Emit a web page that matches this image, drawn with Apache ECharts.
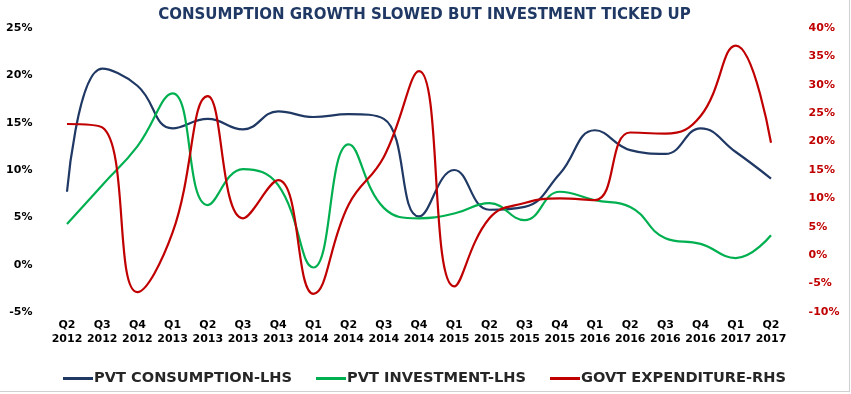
<!DOCTYPE html>
<html>
<head>
<meta charset="utf-8">
<script src="https://cdn.jsdelivr.net/npm/echarts@6/dist/echarts.min.js"></script>
<style>
html,body{margin:0;padding:0;background:#fff;}
#chart{width:850px;height:392px;box-sizing:border-box;border-right:1px solid #d0d0d0;border-bottom:1px solid #d0d0d0;}
</style>
</head>
<body>
<div id="chart"></div>
<script>
const categories = ["Q2\n2012","Q3\n2012","Q4\n2012","Q1\n2013","Q2\n2013","Q3\n2013","Q4\n2013","Q1\n2014","Q2\n2014","Q3\n2014","Q4\n2014","Q1\n2015","Q2\n2015","Q3\n2015","Q4\n2015","Q1\n2016","Q2\n2016","Q3\n2016","Q4\n2016","Q1\n2017","Q2\n2017"];
const pvtConsumption = [7.7, 20.7, 18.9, 14.4, 15.4, 14.3, 16.2, 15.6, 15.9, 15.4, 5.1, 10.0, 5.8, 6.1, 9.6, 14.2, 12.1, 11.7, 14.4, 11.9, 9.1];
const pvtInvestment = [4.3, 8.4, 12.5, 18.1, 6.3, 10.1, 8.4, -0.3, 12.7, 6.0, 4.9, 5.4, 6.5, 4.7, 7.7, 6.8, 6.1, 2.8, 2.2, 0.7, 3.1];
const govtExpenditure = [23.1, 22.5, -6.5, 4.0, 28.0, 6.5, 13.2, -6.8, 8.9, 17.3, 32.4, -5.5, 6.5, 9.2, 10.0, 9.7, 21.6, 21.4, 24.5, 36.9, 19.8];
const leftTicks = {min: -5, max: 25, interval: 5};
const rightTicks = {min: -10, max: 40, interval: 5};

const chart = echarts.init(document.getElementById('chart'));
const fontAxis = 'DejaVu Sans';
chart.setOption({
  animation: false,
  title: {
    text: 'CONSUMPTION GROWTH SLOWED BUT INVESTMENT TICKED UP',
    left: 'center', top: 3,
    textStyle: {fontFamily: 'DejaVu Sans', fontWeight: 'bold', fontSize: 15, color: '#1F3864'}
  },
  legend: {
    bottom: 0, left: 'center', itemGap: 24, itemWidth: 30, itemHeight: 3,
    icon: 'rect',
    textStyle: {fontFamily: 'DejaVu Sans', fontWeight: 'bold', fontSize: 14.6, color: '#262626', padding: [0,0,0,-4]},
    data: ['PVT CONSUMPTION-LHS','PVT INVESTMENT-LHS','GOVT EXPENDITURE-RHS']
  },
  grid: {left: 49.4, right: 60.4, top: 28, bottom: 79, containLabel: false},
  xAxis: {
    type: 'category', data: categories, boundaryGap: true,
    axisLine: {show: false}, axisTick: {show: false},
    axisLabel: {interval: 0, fontFamily: fontAxis, fontWeight: 'bold', fontSize: 11, color: '#000', lineHeight: 14, margin: 6}
  },
  yAxis: [
    {type: 'value', min: leftTicks.min, max: leftTicks.max, interval: leftTicks.interval,
     splitLine: {show: false}, axisLine: {show: false}, axisTick: {show: false},
     axisLabel: {formatter: '{value}%', fontFamily: fontAxis, fontWeight: 'bold', fontSize: 11, color: '#000', margin: 17}},
    {type: 'value', min: rightTicks.min, max: rightTicks.max, interval: rightTicks.interval, position: 'right',
     splitLine: {show: false}, axisLine: {show: false}, axisTick: {show: false},
     axisLabel: {formatter: '{value}%', fontFamily: fontAxis, fontWeight: 'bold', fontSize: 11, color: '#C00000', margin: 20}}
  ],
  series: [
    {name: 'PVT CONSUMPTION-LHS', type: 'line', yAxisIndex: 0, data: pvtConsumption, smooth: 0.45, showSymbol: false,
     lineStyle: {width: 2.2, color: '#1F3864'}, itemStyle: {color: '#1F3864'}},
    {name: 'PVT INVESTMENT-LHS', type: 'line', yAxisIndex: 0, data: pvtInvestment, smooth: 0.45, showSymbol: false,
     lineStyle: {width: 2.2, color: '#00B050'}, itemStyle: {color: '#00B050'}},
    {name: 'GOVT EXPENDITURE-RHS', type: 'line', yAxisIndex: 1, data: govtExpenditure, smooth: 0.45, showSymbol: false,
     lineStyle: {width: 2.2, color: '#C00000'}, itemStyle: {color: '#C00000'}}
  ]
});
</script>
</body>
</html>
